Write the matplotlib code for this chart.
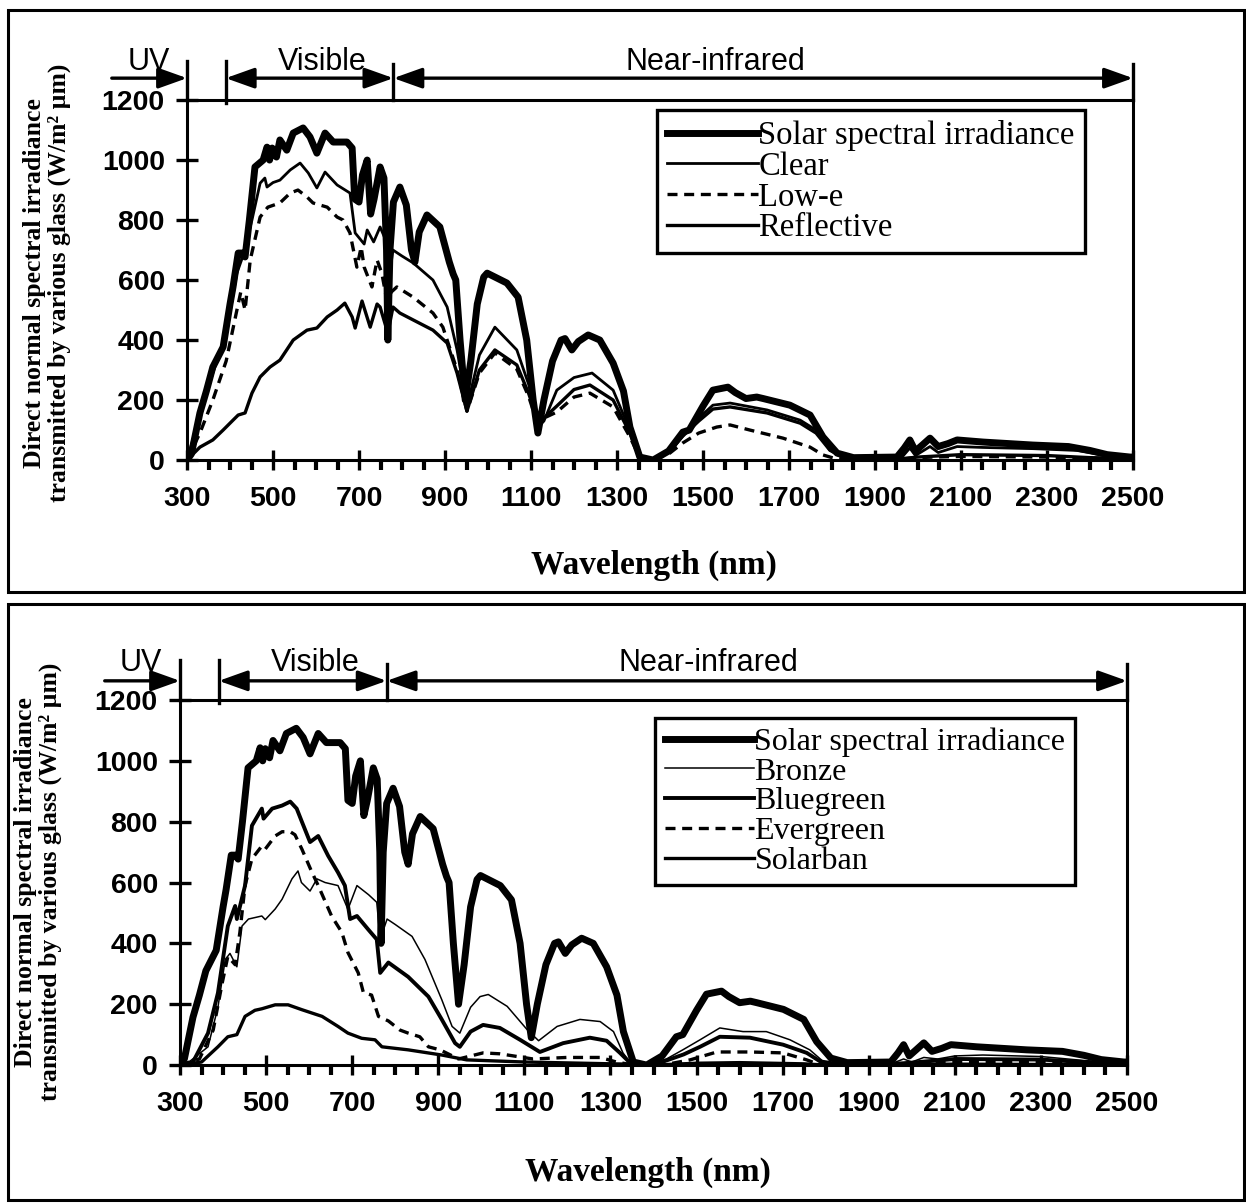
import matplotlib
matplotlib.use("Agg")
import matplotlib.pyplot as plt
from matplotlib.patches import Rectangle
from matplotlib.ticker import MultipleLocator

# ---------- data (wavelength nm, W/m2 um) ----------
solar_wl = [300, 310, 330, 345, 360, 384, 400, 407, 419, 428, 435, 445, 458, 477, 486, 492,
            498, 508, 516, 532, 547, 570, 586, 602, 621, 640, 672, 684, 690, 700, 708, 719,
            727, 735, 749, 758, 764, 767, 772, 780, 795, 810, 822, 830, 840, 858, 888, 910,
            919, 925, 935, 947, 960, 975, 990, 998, 1044, 1070, 1090, 1105, 1116, 1130, 1150,
            1170, 1179, 1195, 1210, 1233, 1260, 1291, 1315, 1330, 1353, 1384, 1420, 1453, 1468,
            1500, 1523, 1558, 1575, 1600, 1625, 1640, 1702, 1749, 1779, 1812, 1850, 1951, 1968,
            1981, 1994, 2010, 2028, 2047, 2070, 2091, 2151, 2267, 2350, 2400, 2440, 2493, 2500]
solar_val = [0, 20, 157, 230, 310, 377, 520, 577, 690, 690, 677, 800, 977, 1000, 1043, 1000,
             1040, 1010, 1067, 1033, 1090, 1107, 1077, 1023, 1090, 1060, 1060, 1040, 870, 860, 950, 1000,
             820, 870, 977, 940, 700, 400, 700, 860, 910, 850, 700, 660, 760, 817, 777, 660,
             620, 600, 400, 200, 330, 520, 610, 623, 590, 543, 400, 200, 90, 200, 330,
             400, 405, 367, 395, 417, 400, 323, 230, 110, 10, 0, 30, 93, 100,
             180, 233, 243, 225, 205, 210, 205, 183, 150, 77, 23, 8, 10, 40,
             67, 30, 50, 73, 45, 55, 67, 60, 50, 45, 32, 18, 10, 10]

clear_wl = [300, 330, 360, 391, 416, 430, 451, 470, 481, 486, 500, 516, 540, 563, 582, 602,
            621, 649, 679, 691, 712, 719, 734, 749, 760, 767, 779, 800, 826, 872, 905, 928,
            951, 980, 1016, 1067, 1095, 1116, 1130, 1160, 1200, 1242, 1291, 1330, 1353, 1384,
            1420, 1453, 1490, 1523, 1563, 1649, 1726, 1763, 1795, 1826, 1900, 1960, 1981, 1994,
            2028, 2047, 2091, 2151, 2267, 2370, 2423, 2493, 2500]
clear_val = [0, 150, 290, 420, 623, 680, 800, 923, 940, 910, 925, 933, 967, 990, 957, 907,
             960, 917, 890, 757, 720, 767, 727, 777, 740, 580, 700, 680, 657, 600, 510, 367,
             177, 350, 443, 367, 250, 110, 130, 233, 275, 290, 233, 100, 10, 0,
             25, 80, 140, 183, 190, 167, 133, 100, 33, 10, 3, 5, 40, 15,
             45, 25, 45, 42, 38, 32, 18, 8, 8]

lowe_wl = [300, 330, 360, 391, 416, 425, 435, 447, 470, 488, 516, 540, 558, 579, 593, 626,
           649, 663, 679, 695, 705, 712, 730, 742, 753, 765, 775, 788, 826, 872, 895, 928,
           951, 980, 1016, 1067, 1095, 1113, 1130, 1160, 1200, 1237, 1291, 1330, 1353, 1384,
           1420, 1453, 1490, 1532, 1563, 1609, 1686, 1749, 1779, 1812, 1950, 2000, 2035, 2100,
           2300, 2400, 2500]
lowe_val = [0, 90, 200, 330, 500, 560, 500, 667, 810, 843, 857, 890, 900, 877, 857, 843,
            810, 800, 757, 643, 710, 643, 577, 667, 623, 530, 560, 577, 543, 490, 443, 300,
            163, 290, 357, 303, 210, 130, 140, 160, 210, 223, 177, 77, 8, 0,
            20, 57, 90, 110, 117, 100, 73, 43, 17, 3, 2, 8, 10, 12,
            10, 6, 3]

refl_wl = [300, 330, 360, 384, 407, 419, 435, 451, 470, 493, 516, 547, 579, 602, 626, 649,
           667, 684, 691, 707, 726, 742, 749, 767, 779, 795, 826, 872, 905, 928, 951, 980,
           1016, 1067, 1095, 1116, 1130, 1160, 1200, 1237, 1291, 1330, 1353, 1384, 1420, 1453,
           1490, 1523, 1563, 1649, 1726, 1763, 1795, 1826, 1950, 2000, 2100, 2300, 2400, 2500]
refl_val = [0, 43, 67, 100, 133, 150, 157, 223, 277, 310, 333, 400, 433, 440, 477, 500,
            523, 477, 440, 530, 443, 520, 510, 423, 510, 490, 467, 433, 390, 290, 163, 300,
            367, 317, 220, 130, 140, 180, 235, 250, 200, 90, 8, 0, 25, 80,
            130, 170, 177, 157, 123, 90, 33, 8, 3, 10, 18, 15, 8, 5]

bronze_wl = [300, 318, 365, 388, 405, 416, 432, 444, 459, 490, 498, 521, 537, 560, 574, 582,
             602, 618, 637, 667, 690, 711, 738, 757, 765, 781, 800, 839, 869, 908, 932, 950,
             975, 997, 1016, 1060, 1106, 1133, 1176, 1229, 1276, 1307, 1329, 1345, 1384, 1430,
             1468, 1508, 1554, 1608, 1662, 1717, 1763, 1794, 1830, 1950, 1981, 2000, 2028, 2060,
             2100, 2165, 2300, 2400, 2500]
bronze_val = [0, 7, 60, 190, 347, 367, 323, 457, 480, 490, 478, 513, 545, 612, 638, 600,
              572, 612, 600, 590, 512, 590, 560, 535, 413, 480, 462, 423, 347, 215, 127, 105,
              190, 225, 232, 193, 117, 80, 127, 150, 143, 110, 40, 10, 0, 20,
              50, 83, 122, 110, 110, 83, 50, 12, 3, 3, 20, 10, 25, 20,
              30, 33, 28, 15, 5]

bluegreen_wl = [300, 330, 365, 388, 411, 428, 432, 451, 467, 490, 494, 514, 537, 556, 571, 583,
                602, 621, 644, 667, 683, 695, 711, 737, 757, 765, 784, 830, 877, 908, 939, 950,
                975, 1004, 1043, 1090, 1136, 1190, 1252, 1291, 1322, 1345, 1384, 1430, 1470, 1508,
                1554, 1624, 1701, 1756, 1787, 1830, 1950, 2000, 2100, 2300, 2400, 2500]
bluegreen_val = [0, 10, 105, 237, 457, 523, 480, 590, 787, 843, 810, 843, 853, 866, 843, 800,
                 733, 753, 688, 633, 590, 480, 490, 446, 413, 303, 337, 290, 225, 150, 72, 60,
                 110, 132, 122, 83, 43, 72, 90, 80, 40, 8, 0, 15, 35, 60,
                 93, 90, 67, 40, 12, 3, 3, 8, 20, 18, 10, 3]

evergreen_wl = [300, 345, 377, 398, 411, 428, 439, 451, 467, 490, 498, 521, 537, 556, 567, 583,
                606, 621, 652, 676, 690, 714, 726, 745, 761, 784, 811, 830, 857, 877, 904, 947,
                1004, 1043, 1120, 1198, 1276, 1314, 1345, 1440, 1485, 1547, 1624, 1701, 1756, 1779,
                1850, 2000, 2100, 2300, 2450, 2500]
evergreen_val = [0, 20, 115, 270, 357, 330, 436, 590, 678, 720, 710, 753, 767, 767, 757, 710,
                 635, 590, 490, 436, 370, 303, 238, 230, 160, 145, 115, 105, 93, 60, 50, 20,
                 40, 37, 20, 25, 25, 10, 2, 5, 17, 43, 43, 40, 17, 5,
                 0, 5, 10, 10, 3, 2]

solarban_wl = [300, 350, 388, 411, 432, 451, 474, 490, 521, 551, 583, 630, 667, 690, 722, 753,
               769, 830, 908, 966, 1100, 1340, 1400, 1500, 1600, 1750, 1800, 2100, 2500]
solarban_val = [0, 10, 60, 93, 100, 160, 180, 185, 198, 198, 182, 160, 127, 105, 88, 83,
                60, 50, 33, 17, 10, 3, 0, 6, 8, 4, 0, 3, 1]

# band limits and names for the arrows above the plots
band_edges = [300, 390, 780, 2500]
band_names = ["UV", "Visible", "Near-infrared"]

X_TICKS = list(range(300, 2501, 200))
Y_TICKS = list(range(0, 1201, 200))

SANS = "Liberation Sans"
SERIF = "Liberation Serif"
YLABEL = "Direct normal spectral irradiance\ntransmitted by various glass (W/m\u00b2 \u00b5m)"


def style_axes(ax):
    ax.set_xlim(300, 2500)
    ax.set_ylim(0, 1200)
    ax.set_xticks(X_TICKS)
    ax.set_yticks(Y_TICKS)
    ax.xaxis.set_minor_locator(MultipleLocator(50))
    for s in ax.spines.values():
        s.set_linewidth(2.2)
    ax.tick_params(axis="x", which="major", direction="inout", length=14, width=2.4,
                   pad=12, labelsize=20.5)
    ax.tick_params(axis="x", which="minor", direction="out", length=7, width=3)
    ax.tick_params(axis="y", which="major", direction="inout", length=16, width=2.4,
                   pad=8, labelsize=20.5)
    for lab in ax.get_xticklabels() + ax.get_yticklabels():
        lab.set_fontfamily(SANS)
        lab.set_fontweight("bold")


def band_arrows(ax, y_arrow, y_text):
    kw = dict(xycoords="data", textcoords="data", annotation_clip=False)
    head = "head_length=0.7,head_width=0.25"
    # UV: single arrow coming from outside the axes
    ax.annotate("", xy=(band_edges[0], y_arrow), xytext=(125, y_arrow),
                arrowprops=dict(arrowstyle="-|>," + head, mutation_scale=25, lw=2.4,
                                color="black", shrinkA=0, shrinkB=0), **kw)
    for a, b in zip(band_edges[1:-1], band_edges[2:]):
        ax.annotate("", xy=(b, y_arrow), xytext=(a, y_arrow),
                    arrowprops=dict(arrowstyle="<|-|>," + head, mutation_scale=25, lw=2.4,
                                    color="black", shrinkA=0, shrinkB=0), **kw)
    # vertical limit bars
    ax.plot([band_edges[0]] * 2, [1200, 1330], color="black", lw=2.4, clip_on=False)
    ax.plot([band_edges[1]] * 2, [1190, 1330], color="black", lw=2.4, clip_on=False)
    ax.plot([band_edges[2]] * 2, [1200, 1320], color="black", lw=2.4, clip_on=False)
    ax.plot([band_edges[3]] * 2, [1200, 1320], color="black", lw=2.4, clip_on=False)
    centers = [210, 614, 1528]
    for name, cx in zip(band_names, centers):
        ax.text(cx, y_text, name, ha="center", va="center", fontsize=22,
                fontfamily=SANS, clip_on=False)


def add_legend(ax, anchor, size):
    leg = ax.legend(loc="upper left", bbox_to_anchor=anchor, borderaxespad=0,
                    prop={"family": SERIF, "size": size}, handlelength=2.8,
                    handletextpad=0.0, labelspacing=0.01, fancybox=False,
                    edgecolor="black", framealpha=1, borderpad=0.3)
    leg.get_frame().set_linewidth(2.4)
    return leg


fig = plt.figure(figsize=(12.46, 12.04), dpi=100)

# ---------- top panel ----------
ax1 = fig.add_axes([0.1501, 0.6179, 0.7592, 0.299])
ax1.plot(solar_wl, solar_val, color="black", lw=5, solid_joinstyle="round",
         label="Solar spectral irradiance")
ax1.plot(clear_wl, clear_val, color="black", lw=2.0, label="Clear")
ax1.plot(lowe_wl, lowe_val, color="black", lw=2.4, dashes=(3, 2), label="Low-e")
ax1.plot(refl_wl, refl_val, color="black", lw=2.4, label="Reflective")
style_axes(ax1)
band_arrows(ax1, 1273, 1327)
add_legend(ax1, (0.497, 0.972), 23.5)
ax1.set_xlabel("Wavelength (nm)", fontfamily=SERIF, fontweight="bold", fontsize=24)
ax1.xaxis.set_label_coords(0.494, -0.25)
fig.text(0.0377, 0.765, YLABEL, rotation=90, ha="center", va="center", fontfamily=SERIF,
         fontweight="bold", fontsize=18.5, linespacing=1.05)

# ---------- bottom panel ----------
ax2 = fig.add_axes([0.1445, 0.1154, 0.760, 0.3032])
ax2.plot(solar_wl, solar_val, color="black", lw=5, solid_joinstyle="round",
         label="Solar spectral irradiance")
ax2.plot(bronze_wl, bronze_val, color="black", lw=1.1, label="Bronze")
ax2.plot(bluegreen_wl, bluegreen_val, color="black", lw=2.8, label="Bluegreen")
ax2.plot(evergreen_wl, evergreen_val, color="black", lw=2.4, dashes=(3, 2), label="Evergreen")
ax2.plot(solarban_wl, solarban_val, color="black", lw=2.4, label="Solarban")
style_axes(ax2)
band_arrows(ax2, 1263, 1322)
add_legend(ax2, (0.502, 0.951), 23)
ax2.set_xlabel("Wavelength (nm)", fontfamily=SERIF, fontweight="bold", fontsize=24)
ax2.xaxis.set_label_coords(0.494, -0.25)
fig.text(0.0305, 0.2674, YLABEL, rotation=90, ha="center", va="center", fontfamily=SERIF,
         fontweight="bold", fontsize=18.5, linespacing=1.05)

# panel frames
fig.add_artist(Rectangle((0.0064, 0.5083), 0.992, 0.4834, transform=fig.transFigure,
                         fill=False, lw=2.2, color="black"))
fig.add_artist(Rectangle((0.0064, 0.0033), 0.992, 0.4950, transform=fig.transFigure,
                         fill=False, lw=2.2, color="black"))

fig.savefig("out.png", dpi=100)
